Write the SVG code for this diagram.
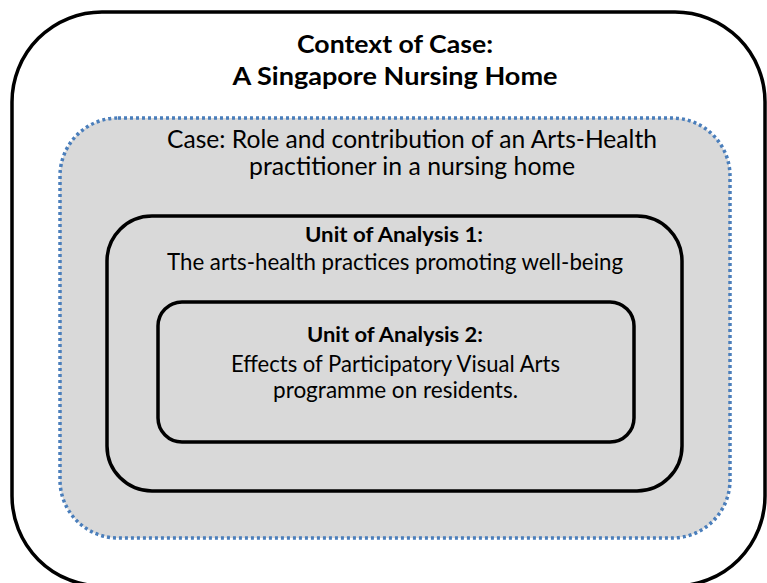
<svg xmlns="http://www.w3.org/2000/svg" width="767" height="583" viewBox="0 0 767 583">
<style>
.box{fill:none;stroke:#000;stroke-width:3.5}
.inner{fill:#d9d9d9;stroke:#000;stroke-width:3.5}
.case{fill:#d9d9d9;stroke:#4a7ebb;stroke-width:3.5;stroke-dasharray:3 3}
text{font-family:Lato,"Open Sans","Liberation Sans",sans-serif;fill:#000;text-anchor:middle}
.b{font-weight:bold}
</style>
<rect width="767" height="583" fill="#fff"/>
<g id="context">
<rect class="box" x="12" y="12" width="753" height="574" rx="90" ry="90"/>
<text class="b" x="395" y="53" font-size="25.5" textLength="196" lengthAdjust="spacingAndGlyphs">Context of Case:</text>
<text class="b" x="395" y="85" font-size="25.5" textLength="325" lengthAdjust="spacingAndGlyphs">A Singapore Nursing Home</text>
</g>
<g id="case">
<rect class="case" x="60" y="118" width="670" height="420" rx="58" ry="58"/>
<text x="412" y="148" font-size="24.5" textLength="490" lengthAdjust="spacingAndGlyphs">Case: Role and contribution of an Arts-Health</text>
<text x="412" y="175" font-size="24.5" textLength="326" lengthAdjust="spacingAndGlyphs">practitioner in a nursing home</text>
</g>
<g id="unit1">
<rect class="inner" x="107" y="216" width="575" height="275" rx="45" ry="45"/>
<text class="b" x="394" y="242" font-size="21.5" textLength="178" lengthAdjust="spacingAndGlyphs">Unit of Analysis 1:</text>
<text x="395" y="270" font-size="22.5" textLength="456" lengthAdjust="spacingAndGlyphs">The arts-health practices promoting well-being</text>
</g>
<g id="unit2">
<rect class="inner" x="158" y="302" width="476" height="140" rx="24" ry="24"/>
<text class="b" x="395" y="342" font-size="21.5" textLength="176" lengthAdjust="spacingAndGlyphs">Unit of Analysis 2:</text>
<text x="395.5" y="372" font-size="22.5" textLength="329" lengthAdjust="spacingAndGlyphs">Effects of Participatory Visual Arts</text>
<text x="395.5" y="398" font-size="22.5" textLength="245" lengthAdjust="spacingAndGlyphs">programme on residents.</text>
</g>
<g id="connectors"></g>
</svg>
